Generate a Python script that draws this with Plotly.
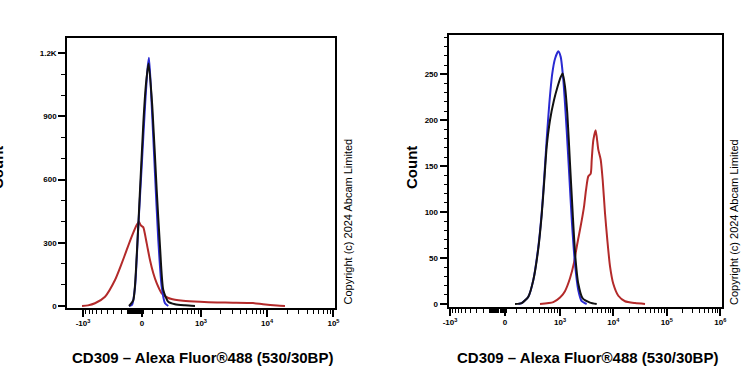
import numpy as np
import plotly.graph_objects as go

# ---------------- data (x in biexponential display units, y = event count) -------------
# Left panel
left_blue_x = [-0.195, -0.150, -0.105, -0.056, -0.005, 0.045, 0.086, 0.105, 0.135, 0.195, 0.245, 0.296, 0.346, 0.395]
left_blue_y = [0, 5, 90, 376, 661, 946, 1135, 1178, 1025, 630, 313, 92, 13, 0]

left_black_x = [-0.195, -0.131, -0.080, -0.030, 0.020, 0.056, 0.086, 0.101, 0.155, 0.221, 0.271, 0.320, 0.395, 0.496, 0.647, 0.797]
left_black_y = [0, 28, 234, 550, 867, 1040, 1125, 1150, 946, 550, 281, 76, 20, 8, 3, 0]

left_red_x = [-0.902, -0.812, -0.707, -0.556, -0.406, -0.305, -0.230, -0.155, -0.080, -0.045, -0.023, 0.0, 0.020,
              0.071, 0.120, 0.170, 0.221, 0.296, 0.395, 0.496, 0.617, 0.872, 1.128, 1.368, 1.669, 1.820, 2.030, 2.150]
left_red_y = [0, 3, 13, 44, 123, 202, 266, 329, 384, 400, 385, 378, 373,
              297, 218, 155, 108, 60, 38, 30, 25, 20, 17, 16, 14, 8, 2, 0]

# Right panel
right_blue_x = [0.25, 0.312, 0.436, 0.529, 0.622, 0.686, 0.735, 0.779, 0.828, 0.884, 0.935, 0.996, 1.041,
                1.090, 1.153, 1.202, 1.252, 1.308, 1.370, 1.434, 1.527]
right_blue_y = [0, 1, 8, 26, 62, 99, 139, 179, 218, 251, 267, 275, 269, 244, 189, 139, 88, 44, 15, 3, 0]

right_black_x = [0.187, 0.312, 0.436, 0.529, 0.622, 0.686, 0.735, 0.779, 0.841, 0.916, 0.985, 1.041, 1.078,
                 1.121, 1.164, 1.215, 1.265, 1.314, 1.370, 1.452, 1.589, 1.714]
right_black_y = [0, 1, 8, 26, 60, 97, 135, 171, 200, 222, 237, 247, 251, 237, 208, 153, 99, 52, 22, 6, 1.5, 0]

right_red_x = [0.654, 0.903, 1.028, 1.121, 1.215, 1.290, 1.346, 1.389, 1.434, 1.477, 1.514, 1.557, 1.602, 1.621,
               1.650, 1.695, 1.744, 1.789, 1.826, 1.869, 1.912, 1.963, 2.024, 2.118, 2.243, 2.430, 2.617]
right_red_y = [0, 2, 7, 14, 28, 45, 64, 77, 91, 106, 124, 139, 142, 157,
               178, 189, 168, 157, 135, 99, 70, 41, 22, 9, 3, 1, 0]

# Tick labels
left_xtick_vals = [-1e3, 0, 1e3, 1e4, 1e5]
left_xtick_text = ["-10<sup>3</sup>", "0", "10<sup>3</sup>", "10<sup>4</sup>", "10<sup>5</sup>"]
right_xtick_vals = [-1e3, 0, 1e3, 1e4, 1e5, 1e6]
right_xtick_text = ["-10<sup>3</sup>", "0", "10<sup>3</sup>", "10<sup>4</sup>", "10<sup>5</sup>", "10<sup>6</sup>"]
left_ytick_vals = [0, 300, 600, 900, 1200]
left_ytick_text = ["0", "300", "600", "900", "1.2K"]
right_ytick_vals = [0, 50, 100, 150, 200, 250]
right_ytick_text = ["0", "50", "100", "150", "200", "250"]

x_title = "CD309 – Alexa Fluor®488 (530/30BP)"
y_title = "Count"
copyright_text = "Copyright (c) 2024 Abcam Limited"

# ---------------- biexponential scale helpers ----------------
LEFT_W = 264.0
RIGHT_W = 189.0


def biex(v, w):
    return np.arcsinh(np.asarray(v, dtype=float) / w) / np.log(10)


def minor_vals(maxdec):
    vals = []
    vals += list(range(-900, 0, 100)) + list(range(100, 1000, 100))
    vals += list(range(-140, 20, 10))
    for d in range(3, maxdec):
        for m in range(2, 10):
            vals.append(m * 10 ** d)
    return vals


W, H = 750, 375
FONT = "Liberation Sans, Arial, Helvetica, sans-serif"
BLUE = "#2a2ad2"
BLACK = "#111111"
RED = "#b32a2a"


def px_x(p):
    return p / W


def px_y(p):
    return 1 - p / H


fig = go.Figure()
lw = 2
for xs, ys, col, xa, ya in [
    (left_red_x, left_red_y, RED, "x", "y"),
    (left_blue_x, left_blue_y, BLUE, "x", "y"),
    (left_black_x, left_black_y, BLACK, "x", "y"),
    (right_red_x, right_red_y, RED, "x2", "y2"),
    (right_blue_x, right_blue_y, BLUE, "x2", "y2"),
    (right_black_x, right_black_y, BLACK, "x2", "y2"),
]:
    fig.add_trace(go.Scatter(x=xs, y=ys, mode="lines", xaxis=xa, yaxis=ya,
                             line=dict(color=col, width=lw, shape="spline", smoothing=0.6),
                             hoverinfo="skip"))


def bold(lst):
    return ["<b>" + s + "</b>" for s in lst]


common_axis = dict(showline=True, linecolor="black", linewidth=1.5, mirror=True,
                   showgrid=False, zeroline=False, ticks="outside", tickcolor="black",
                   tickwidth=1.5, automargin=False,
                   tickfont=dict(family=FONT, size=8, color="black"))

# left x: zero at px 142, 66.5 px/unit
lx0, lx1 = 67, 335
fig.update_layout(
    xaxis=dict(domain=[px_x(lx0), px_x(lx1)], range=[(lx0 - 142) / 66.5, (lx1 - 142) / 66.5],
               anchor="y", tickmode="array", tickvals=list(biex(left_xtick_vals, LEFT_W)),
               ticktext=bold(left_xtick_text), ticklen=7,
               minor=dict(tickmode="array", tickvals=list(biex(minor_vals(5), LEFT_W)), ticklen=4,
                          tickcolor="black", tickwidth=1.2, ticks="outside"),
               **common_axis),
    yaxis=dict(domain=[px_y(308), px_y(38)], range=[-(308 - 306) / 0.2108, (306 - 38) / 0.2108],
               anchor="x", tickmode="array", tickvals=left_ytick_vals, ticktext=bold(left_ytick_text),
               ticklen=7,
               minor=dict(dtick=100, tick0=0, ticklen=4, tickcolor="black", tickwidth=1.2, ticks="outside"),
               **common_axis),
)

rx0, rx1 = 505 - 1.04 * 53.5, 722
fig.update_layout(
    xaxis2=dict(domain=[px_x(rx0), px_x(rx1)], range=[-1.04, (rx1 - 505) / 53.5],
                anchor="y2", tickmode="array", tickvals=list(biex(right_xtick_vals, RIGHT_W)),
                ticktext=bold(right_xtick_text), ticklen=7,
                minor=dict(tickmode="array", tickvals=list(biex(minor_vals(6), RIGHT_W)), ticklen=4,
                           tickcolor="black", tickwidth=1.2, ticks="outside"),
                **common_axis),
    yaxis2=dict(domain=[px_y(307), px_y(35)], range=[-(307 - 304) / 0.9187, (304 - 35) / 0.9187],
                anchor="x2", tickmode="array", tickvals=right_ytick_vals, ticktext=bold(right_ytick_text),
                ticklen=8,
                minor=dict(dtick=10, tick0=0, ticklen=4, tickcolor="black", tickwidth=1.2, ticks="outside"),
                **common_axis),
)

annos = []
for cx in [202.5, 587.5]:
    annos.append(dict(text="<b>" + x_title + "</b>", x=px_x(cx), y=px_y(357), xref="paper", yref="paper",
                      xanchor="center", yanchor="middle", showarrow=False,
                      font=dict(family=FONT, size=15, color="black")))
for cx in [-2, 412]:
    annos.append(dict(text="<b>" + y_title + "</b>", x=px_x(cx), y=px_y(168), xref="paper", yref="paper",
                      xanchor="center", yanchor="middle", showarrow=False, textangle=-90,
                      font=dict(family=FONT, size=15, color="black")))
for cx in [347.5, 734]:
    annos.append(dict(text=copyright_text, x=px_x(cx), y=px_y(222), xref="paper", yref="paper",
                      xanchor="center", yanchor="middle", showarrow=False, textangle=-90,
                      font=dict(family=FONT, size=11, color="black")))

fig.update_layout(width=W, height=H, margin=dict(l=0, r=0, t=0, b=0, autoexpand=False),
                  paper_bgcolor="white", plot_bgcolor="white", showlegend=False,
                  annotations=annos)

fig.write_html("out.html", config={"displayModeBar": False},
               post_script="document.body.style.margin='0';document.body.style.overflow='hidden';")
